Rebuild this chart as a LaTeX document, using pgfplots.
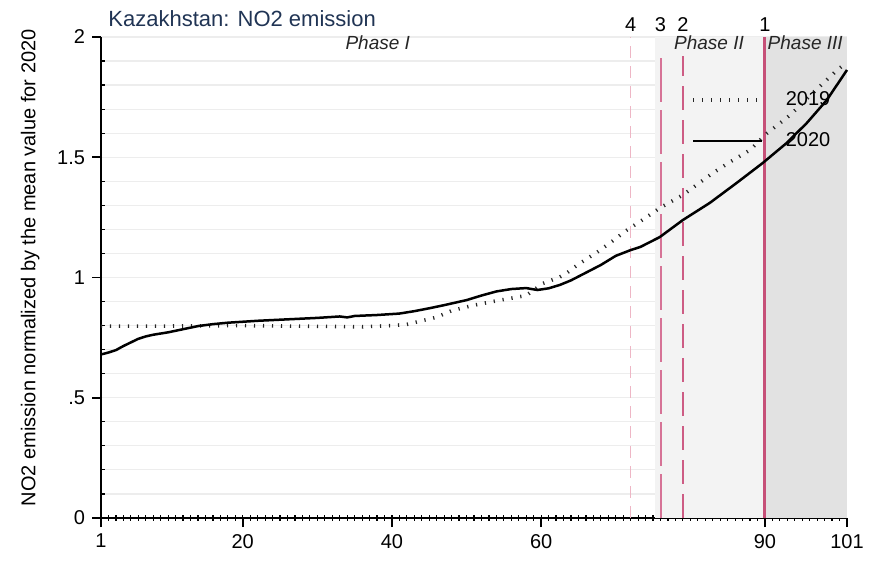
\documentclass[border=0pt]{standalone}
\usepackage{fontspec}
\setmainfont{Liberation Sans}
\usepackage{pgfplots}
\pgfplotsset{compat=1.18}
\usetikzlibrary{calc}

\definecolor{titleblue}{RGB}{32,52,84}
\definecolor{phaseII}{RGB}{243,243,243}
\definecolor{phaseIII}{RGB}{226,226,226}
\definecolor{vlineA}{RGB}{198,80,120}
\definecolor{vlineB}{RGB}{205,92,132}
\definecolor{vlineC}{RGB}{214,115,150}
\definecolor{vlineD}{RGB}{238,182,197}

\pgfplotstableread{
x y
1 0.798
10 0.798
20 0.800
30 0.797
36 0.795
40 0.800
42 0.805
44 0.820
46 0.835
48 0.862
51 0.885
54 0.903
58 0.925
60.2 0.975
62.5 1.002
63.5 1.020
65 1.055
67.5 1.105
69.5 1.150
71.5 1.197
74 1.248
75.9 1.289
79 1.343
83 1.434
85.3 1.480
88 1.530
90.3 1.600
93.4 1.676
96.4 1.767
99.7 1.863
101 1.895
}\yrnineteen

\pgfplotstableread{
x y
1 0.680
2 0.688
3 0.698
4 0.715
5 0.730
6 0.745
7 0.755
8 0.762
10 0.772
12 0.785
14 0.798
16 0.806
18 0.812
20 0.816
22 0.820
26 0.826
30 0.832
33 0.838
34 0.834
35 0.840
38 0.844
41 0.850
43 0.860
45 0.872
47 0.885
50 0.906
52 0.925
54 0.942
56 0.952
58 0.956
59.5 0.948
61 0.955
62.5 0.969
64 0.988
66 1.020
68 1.052
70 1.090
72 1.114
73.3 1.127
75.9 1.168
79 1.239
82.6 1.310
86.2 1.393
89.7 1.476
92.9 1.559
95.6 1.642
98.3 1.738
101 1.863
}\yrtwenty

\begin{document}
\begin{tikzpicture}
\begin{axis}[
    scale only axis,
    width=373pt, height=240.5pt,
    xmin=1, xmax=101, ymin=0, ymax=2,
    clip=false,
    axis lines*=left,
    axis line style={line width=0.9pt},
    xtick={1,20,40,60,90,101},
    ytick={0,0.5,1,1.5,2},
    yticklabels={0,.5,1,1.5,2},
    tick align=outside,
    major tick length=4.5pt,
    tick style={black, line width=0.8pt},
    extra x ticks={2,...,100},
    extra x tick labels={},
    extra x tick style={tick align=center, major tick length=3pt, tick style={line width=0.6pt}},
    extra y ticks={0.1,0.2,0.3,0.4,0.6,0.7,0.8,0.9,1.1,1.2,1.3,1.4,1.6,1.7,1.8,1.9},
    extra y tick labels={},
    extra y tick style={tick align=inside, major tick length=2pt, tick style={line width=0.6pt}},
    ymajorgrids,
    grid style={gray!14, line width=0.6pt},
    /pgf/number format/assume math mode=true,
    every tick label/.append style={font=\fontsize{10}{12}\selectfont},
    ylabel={NO2 emission normalized by the mean value for 2020},
    ylabel style={at={(axis description cs:-0.095,0.52)}, anchor=center, font=\fontsize{10}{12}\selectfont},
    legend image code/.code={\draw[#1] (0pt,0pt) -- (34.5pt,0pt);},
    legend cell align=left,
    legend style={at={(axis cs:79.26,1.808)}, anchor=north west, draw=none, fill=none,
        font=\fontsize{10}{12}\selectfont, row sep=8pt,
        /tikz/every odd column/.append style={column sep=9pt}},
]

% phase shading
\addplot[fill=phaseII, draw=none, forget plot] coordinates {(75.3,2) (90,2)} \closedcycle;
\addplot[fill=phaseIII, draw=none, forget plot] coordinates {(90,2) (101,2)} \closedcycle;

% vertical markers
\addplot[vlineD, line width=0.6pt, dash pattern=on 6pt off 4pt, forget plot] coordinates {(72,0) (72,2)};
\addplot[vlineC, line width=1pt, dash pattern=on 22pt off 4pt, forget plot] coordinates {(76,0) (76,1.92)};
\addplot[vlineB, line width=1.2pt, dash pattern=on 12pt off 5pt, forget plot] coordinates {(79,0) (79,1.92)};
\addplot[vlineA, line width=1.5pt, forget plot] coordinates {(90,0) (90,2)};

\addplot[black!85, line width=1.8pt, dash pattern=on 0.6pt off 3.9pt] table[x=x, y=y] {\yrnineteen};
\addlegendentry{2019}
\addplot[black, line width=1.25pt] table[x=x, y=y] {\yrtwenty};
\addlegendentry{2020}

\node[anchor=base west, inner sep=0pt, text=titleblue, font=\fontsize{11}{13}\selectfont] at (axis cs:1.94,2.043) {Kazakhstan: NO2 emission};

\node[anchor=base, inner sep=0pt, font=\fontsize{10}{12}\selectfont] at (axis cs:72,2.022) {4};
\node[anchor=base, inner sep=0pt, font=\fontsize{10}{12}\selectfont] at (axis cs:76,2.022) {3};
\node[anchor=base, inner sep=0pt, font=\fontsize{10}{12}\selectfont] at (axis cs:79,2.022) {2};
\node[anchor=base, inner sep=0pt, font=\fontsize{10}{12}\selectfont] at (axis cs:90,2.022) {1};

\node[anchor=base, inner sep=0pt, font=\fontsize{9.5}{11}\selectfont\itshape, text=black!85] at (axis cs:38.1,1.946) {Phase I};
\node[anchor=base, inner sep=0pt, font=\fontsize{9.5}{11}\selectfont\itshape, text=black!85] at (axis cs:82.5,1.946) {Phase II};
\node[anchor=base, inner sep=0pt, font=\fontsize{9.5}{11}\selectfont\itshape, text=black!85] at (axis cs:95.4,1.946) {Phase III};

\coordinate (bl) at (rel axis cs:0,0);
\coordinate (tr) at (rel axis cs:1,1);
\end{axis}
\pgfresetboundingbox
\path ($(bl)+(-50.5pt,-22pt)$) rectangle ($(tr)+(13pt,18.5pt)$);
\end{tikzpicture}
\end{document}
